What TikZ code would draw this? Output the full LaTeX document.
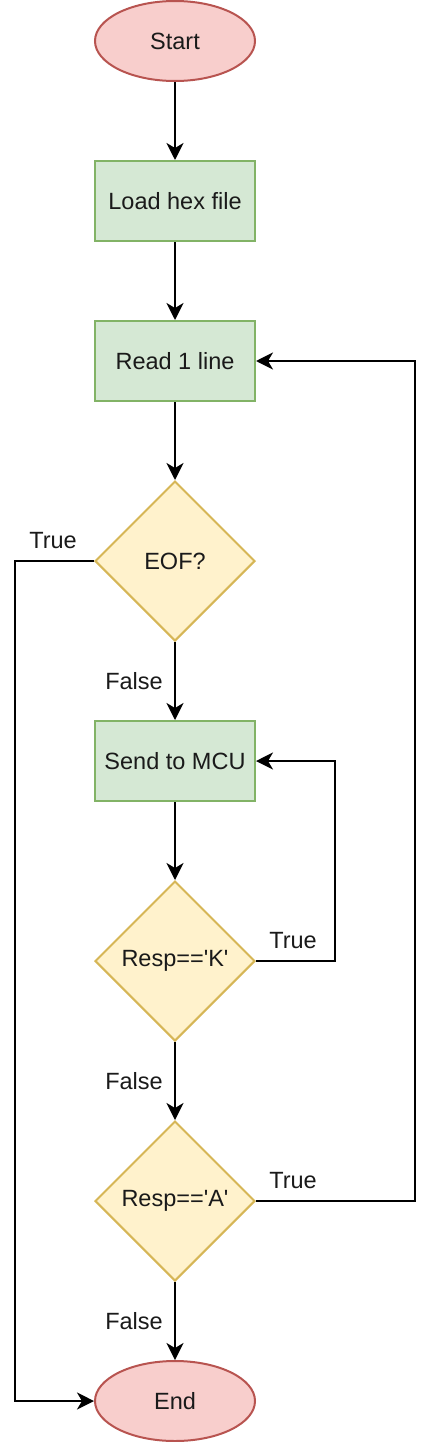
\documentclass[tikz,border=0pt]{standalone}
\usepackage{fontspec}
\setmainfont{Liberation Sans}
\usetikzlibrary{shapes.geometric,arrows.meta}
\definecolor{redfill}{HTML}{F8CECC}
\definecolor{redline}{HTML}{B85450}
\definecolor{greenfill}{HTML}{D5E8D4}
\definecolor{greenline}{HTML}{82B366}
\definecolor{yellowfill}{HTML}{FFF2CC}
\definecolor{yellowline}{HTML}{D6B656}
\definecolor{txt}{HTML}{1A1A1A}
\tikzset{
  base/.style={line width=2pt, inner sep=0pt, font=\fontsize{23.5}{28}\selectfont, text=txt},
  term/.style={base, ellipse, draw=redline, fill=redfill, minimum width=160pt, minimum height=80pt},
  proc/.style={base, rectangle, draw=greenline, fill=greenfill, minimum width=160pt, minimum height=80pt},
  dec/.style={base, diamond, aspect=1, draw=yellowline, fill=yellowfill, minimum width=160pt, minimum height=160pt},
  conn/.style={line width=2pt, -{Stealth[length=17pt,width=17pt,inset=5pt]}},
  lbl/.style={font=\fontsize{23.5}{28}\selectfont, text=txt, inner sep=0pt}
}
\begin{document}
\begin{tikzpicture}[x=1pt,y=-1pt]
\useasboundingbox (0,0) rectangle (432,1442);
\node[term] (start) at (175,41) {Start};
\node[proc] (load) at (175,201) {Load hex file};
\node[proc] (read) at (175,361) {Read 1 line};
\node[dec] (eof) at (175,561) {EOF?};
\node[proc] (send) at (175,761) {Send to MCU};
\node[dec] (k) at (175,961) {Resp==\textquotesingle K\textquotesingle};
\node[dec] (a) at (175,1201) {Resp==\textquotesingle A\textquotesingle};
\node[term] (end) at (175,1401) {End};

\coordinate (eofL) at (15,561);
\coordinate (endL) at (15,1401);
\coordinate (kR) at (335,961);
\coordinate (kU) at (335,761);
\coordinate (aR) at (415,1201);
\coordinate (aU) at (415,361);

\draw[conn] (start) -- (load);
\draw[conn] (load) -- (read);
\draw[conn] (read) -- (eof);
\draw[conn] (eof) -- (send);
\draw[conn] (send) -- (k);
\draw[conn] (k) -- (a);
\draw[conn] (a) -- (end);
\draw[conn] (eof.west) -- (eofL) -- (endL) -- (end.west);
\draw[conn] (k.east) -- (kR) -- (kU) -- (send.east);
\draw[conn] (a.east) -- (aR) -- (aU) -- (read.east);

\node[lbl] (t1) at (53,541) {True};
\node[lbl] (f1) at (134,681) {False};
\node[lbl] (t2) at (293,941) {True};
\node[lbl] (f2) at (134,1081) {False};
\node[lbl] (t3) at (293,1181) {True};
\node[lbl] (f3) at (134,1321) {False};
\end{tikzpicture}
\end{document}
